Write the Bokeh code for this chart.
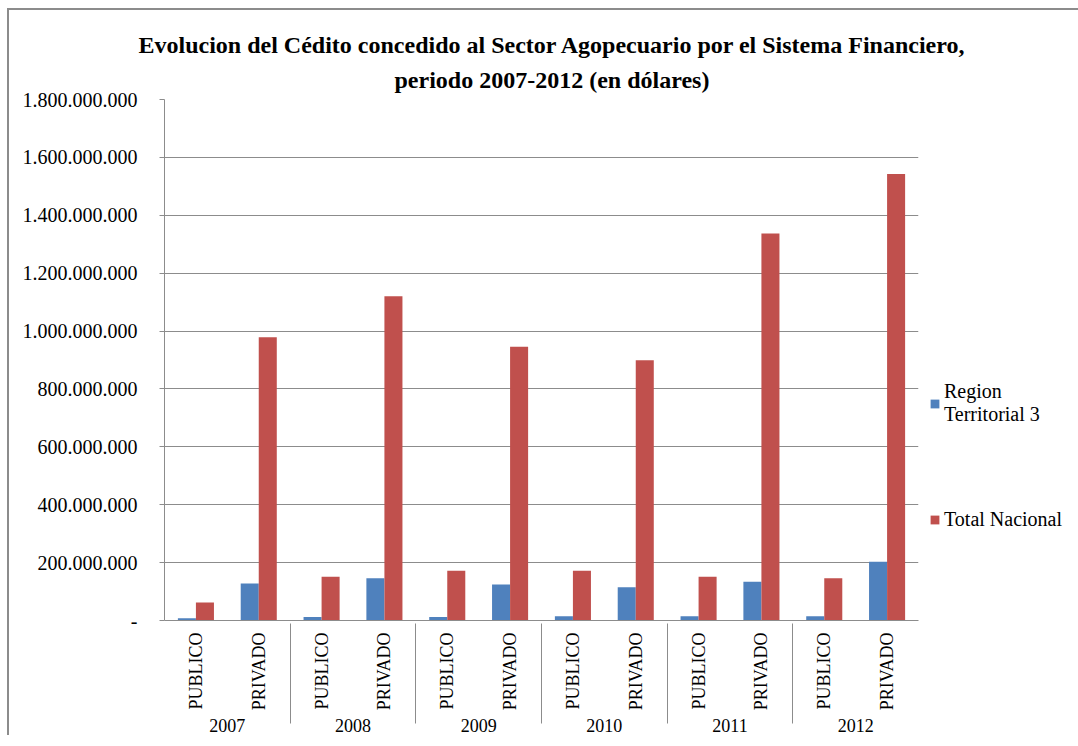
from math import pi
from bokeh.plotting import figure
from bokeh.models import FactorRange, ColumnDataSource, FixedTicker, Legend, LegendItem, Title
from bokeh.transform import dodge
from bokeh.embed import file_html
from bokeh.resources import INLINE

years = ["2007", "2008", "2009", "2010", "2011", "2012"]
sectors = ["PUBLICO", "PRIVADO"]

# Region Territorial 3 (PUBLICO, PRIVADO per year)
region = [8e6, 128e6,
          12e6, 146e6,
          12e6, 124e6,
          15e6, 115e6,
          15e6, 134e6,
          15e6, 203e6]
# Total Nacional
nacional = [62e6, 979e6,
            151e6, 1120e6,
            172e6, 946e6,
            172e6, 899e6,
            151e6, 1337e6,
            146e6, 1543e6]

series_names = ["Region\nTerritorial 3", "Total Nacional"]
yticks = [0, 200e6, 400e6, 600e6, 800e6, 1000e6, 1200e6, 1400e6, 1600e6, 1800e6]
ylabels = ["-", "200.000.000", "400.000.000", "600.000.000", "800.000.000",
           "1.000.000.000", "1.200.000.000", "1.400.000.000", "1.600.000.000",
           "1.800.000.000"]

title_lines = ["Evolucion del Cédito concedido al Sector Agopecuario por el Sistema Financiero,",
               "periodo 2007-2012 (en dólares)"]

factors = [(y, s) for y in years for s in sectors]
src = ColumnDataSource(dict(x=factors, region=region, nacional=nacional))

FONT = "Liberation Serif"
GRID = "#8c8c8c"

p = figure(
    x_range=FactorRange(*factors, group_padding=0, factor_padding=0, range_padding=0),
    y_range=(0, 1.8e9),
    frame_width=754, frame_height=521,
    output_backend="svg", toolbar_location=None,
    min_border_left=155, min_border_right=149, min_border_top=89, min_border_bottom=108,
)
p.styles = {"margin-left": "7px", "margin-top": "8px",
            "border-left": "2px solid #8c8c8c", "border-top": "2px solid #8c8c8c",
            "border-right": "2px solid #8c8c8c"}

bw = 0.287
r1 = p.vbar(x=dodge("x", -bw / 2, range=p.x_range), top="region", width=bw,
            source=src, fill_color="#4F81BD", line_color=None)
r2 = p.vbar(x=dodge("x", bw / 2, range=p.x_range), top="nacional", width=bw,
            source=src, fill_color="#C0504D", line_color=None)

p.title = None
# lines added nearest-to-frame first; left-aligned with offsets so each line centres near x=552
title_offsets = [230, -26]
title_standoffs = [14, 0]
for line, off, so in zip(reversed(title_lines), title_offsets, title_standoffs):
    t = Title(text=line, align="left", text_font=FONT, text_font_size="24px",
              text_font_style="bold", text_color="black", offset=off, standoff=so)
    p.add_layout(t, "above")

p.outline_line_color = None
p.xgrid.grid_line_color = None
p.ygrid.grid_line_color = GRID
p.ygrid.grid_line_width = 1

p.yaxis.ticker = FixedTicker(ticks=yticks, minor_ticks=[])
p.yaxis.major_label_overrides = {int(t): l for t, l in zip(yticks, ylabels)}
p.yaxis.major_label_text_font = FONT
p.yaxis.major_label_text_font_size = "20px"
p.yaxis.major_label_text_color = "black"
p.yaxis.axis_line_color = GRID
p.yaxis.major_tick_line_color = GRID
p.yaxis.major_tick_out = 5
p.yaxis.major_tick_in = 0
p.yaxis.minor_tick_line_color = None
p.yaxis.major_label_standoff = 22

p.xaxis.axis_line_color = GRID
p.xaxis.major_tick_line_color = None
p.xaxis.minor_tick_line_color = None
p.xaxis.major_label_orientation = pi / 2
p.xaxis.major_label_text_font = FONT
p.xaxis.major_label_text_font_size = "18px"
p.xaxis.major_label_text_color = "black"
p.xaxis.major_label_standoff = 6
p.xaxis.group_text_font = FONT
p.xaxis.group_text_font_size = "18px"
p.xaxis.group_text_font_style = "normal"
p.xaxis.group_text_color = "black"
p.xaxis.group_label_orientation = "horizontal"
p.xaxis.separator_line_color = GRID
p.xaxis.separator_line_width = 1

legend = Legend(items=[LegendItem(label=series_names[0], renderers=[r1]),
                       LegendItem(label=series_names[1], renderers=[r2])],
                location=(11, 89))
legend.label_text_font = FONT
legend.label_text_font_size = "20px"
legend.label_text_color = "black"
legend.glyph_width = 11
legend.glyph_height = 11
legend.label_standoff = 4
legend.spacing = 82
legend.padding = 0
legend.margin = 0
legend.border_line_color = None
legend.background_fill_alpha = 0
p.add_layout(legend, "right")

open("out.html", "w").write(file_html(p, INLINE))
